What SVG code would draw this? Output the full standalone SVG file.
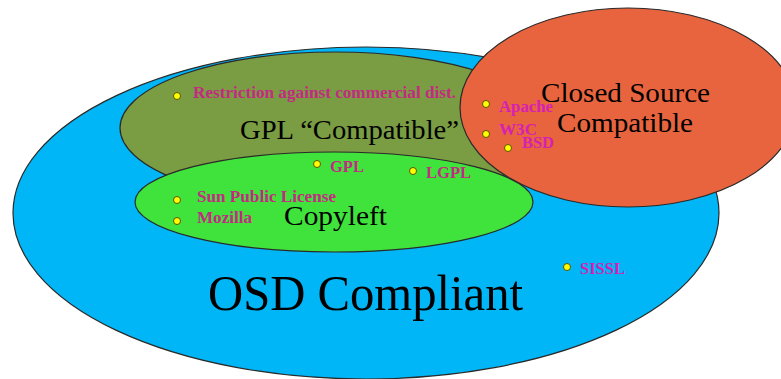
<svg xmlns="http://www.w3.org/2000/svg" width="781" height="379" viewBox="0 0 781 379">
<style>
.region{stroke:#2a2a2a;stroke-width:1.2}
.dot{fill:#ffff00;stroke:#5a5200;stroke-width:1}
text{font-family:'Liberation Serif','DejaVu Serif',serif}
.lbl{font-weight:bold;font-size:16px;fill:#c42a82}
.lbl2{font-weight:bold;font-size:16px;fill:#d620b4}
.big{fill:#000000}
</style>
<rect width="781" height="379" fill="#ffffff"/>
<g id="osd-compliant">
  <ellipse class="region" cx="366" cy="213" rx="353" ry="166" fill="#00b6f6"/>
  <text class="big" font-family="Liberation Serif, serif" x="208" y="310" font-size="50" textLength="315" lengthAdjust="spacingAndGlyphs">OSD Compliant</text>
</g>
<g id="gpl-compatible">
  <ellipse class="region" cx="335" cy="128" rx="215" ry="76" fill="#7a9c42"/>
  <text class="big" font-family="Liberation Serif, serif" x="240" y="139" font-size="28" textLength="219" lengthAdjust="spacingAndGlyphs">GPL “Compatible”</text>
</g>
<g id="copyleft">
  <ellipse class="region" cx="334" cy="202" rx="199" ry="50" fill="#40e23c"/>
  <text class="big" font-family="Liberation Serif, serif" x="284" y="225" font-size="27" textLength="103" lengthAdjust="spacingAndGlyphs">Copyleft</text>
</g>
<g id="closed-source-compatible">
  <ellipse class="region" cx="628" cy="107.5" rx="168" ry="99.5" fill="#e8643e"/>
  <text class="big" font-family="Liberation Serif, serif" x="541" y="102" font-size="28" textLength="169" lengthAdjust="spacingAndGlyphs">Closed Source</text>
  <text class="big" font-family="Liberation Serif, serif" x="557" y="132" font-size="28" textLength="136" lengthAdjust="spacingAndGlyphs">Compatible</text>
</g>
<g id="restriction">
  <circle class="dot" cx="177" cy="96" r="3.5"/>
  <text class="lbl" font-family="Liberation Serif, serif" x="193" y="98" textLength="263" lengthAdjust="spacingAndGlyphs">Restriction against commercial dist.</text>
</g>
<g id="gpl">
  <circle class="dot" cx="317" cy="164" r="3.5"/>
  <text class="lbl" font-family="Liberation Serif, serif" x="330" y="172" textLength="34" lengthAdjust="spacingAndGlyphs">GPL</text>
</g>
<g id="lgpl">
  <circle class="dot" cx="413" cy="171" r="3.5"/>
  <text class="lbl" font-family="Liberation Serif, serif" x="426" y="178" textLength="45" lengthAdjust="spacingAndGlyphs">LGPL</text>
</g>
<g id="sun-public-license">
  <circle class="dot" cx="177" cy="200" r="3.5"/>
  <text class="lbl" font-family="Liberation Serif, serif" x="197" y="202" textLength="139" lengthAdjust="spacingAndGlyphs">Sun Public License</text>
</g>
<g id="mozilla">
  <circle class="dot" cx="177" cy="221" r="3.5"/>
  <text class="lbl" font-family="Liberation Serif, serif" x="197" y="223" textLength="55" lengthAdjust="spacingAndGlyphs">Mozilla</text>
</g>
<g id="apache">
  <circle class="dot" cx="486" cy="104" r="3.5"/>
  <text class="lbl2" font-family="Liberation Serif, serif" x="499" y="112" textLength="54" lengthAdjust="spacingAndGlyphs">Apache</text>
</g>
<g id="w3c">
  <circle class="dot" cx="486" cy="134" r="3.5"/>
  <text class="lbl2" font-family="Liberation Serif, serif" x="499" y="135" textLength="38" lengthAdjust="spacingAndGlyphs">W3C</text>
</g>
<g id="bsd">
  <circle class="dot" cx="508" cy="148" r="3.5"/>
  <text class="lbl2" font-family="Liberation Serif, serif" x="522" y="148" textLength="32" lengthAdjust="spacingAndGlyphs">BSD</text>
</g>
<g id="sissl">
  <circle class="dot" cx="567" cy="267" r="3.5"/>
  <text class="lbl2" font-family="Liberation Serif, serif" x="580" y="274" textLength="45" lengthAdjust="spacingAndGlyphs">SISSL</text>
</g>
</svg>
